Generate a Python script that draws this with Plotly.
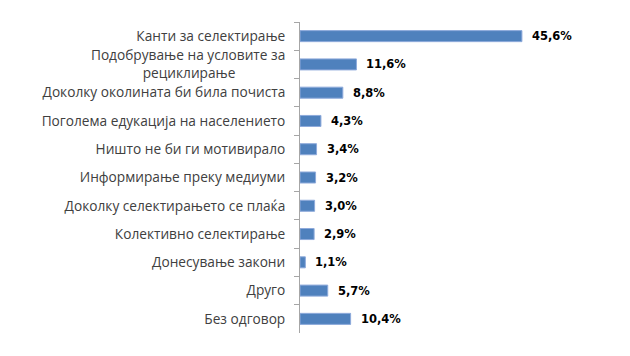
import plotly.graph_objects as go

categories = [
    "Канти за селектирање",
    "Подобрување на условите за<br>рециклирање" + "\u00a0" * 14,
    "Доколку околината би била почиста",
    "Поголема едукација на населението",
    "Ништо не би ги мотивирало",
    "Информирање преку медиуми",
    "Доколку селектирањето се плаќа",
    "Колективно селектирање",
    "Донесување закони",
    "Друго",
    "Без одговор",
]
values = [45.6, 11.6, 8.8, 4.3, 3.4, 3.2, 3.0, 2.9, 1.1, 5.7, 10.4]
value_labels = ["45,6%", "11,6%", "8,8%", "4,3%", "3,4%", "3,2%", "3,0%", "2,9%", "1,1%", "5,7%", "10,4%"]

fig = go.Figure()
fig.add_trace(go.Bar(
    x=values, y=categories, orientation="h",
    marker=dict(color="#4F81BD", line=dict(color="#8EAADB", width=1)),
    width=0.39,
    hoverinfo="skip",
))
for c, v, t in zip(categories, values, value_labels):
    fig.add_annotation(x=v, y=c, text="<b>" + t + "</b>", showarrow=False,
                       xanchor="left", xshift=8,
                       font=dict(family="DejaVu Sans", size=11.5, color="#000000"))

fig.update_layout(
    width=630, height=356,
    margin=dict(l=292, r=46, t=14, b=31),
    paper_bgcolor="white", plot_bgcolor="white",
    showlegend=False,
    font=dict(family="Open Sans", size=13.7, color="#404040"),
)
fig.update_xaxes(range=[0, 60], visible=False)
fig.update_yaxes(autorange="reversed", showline=True, linecolor="#A6A6A6", linewidth=1,
                 ticks="outside", tickson="boundaries", ticklen=5, tickcolor="#A6A6A6",
                 showgrid=False, zeroline=False, ticklabelstandoff=11, automargin=False)
fig.write_html("out.html")
